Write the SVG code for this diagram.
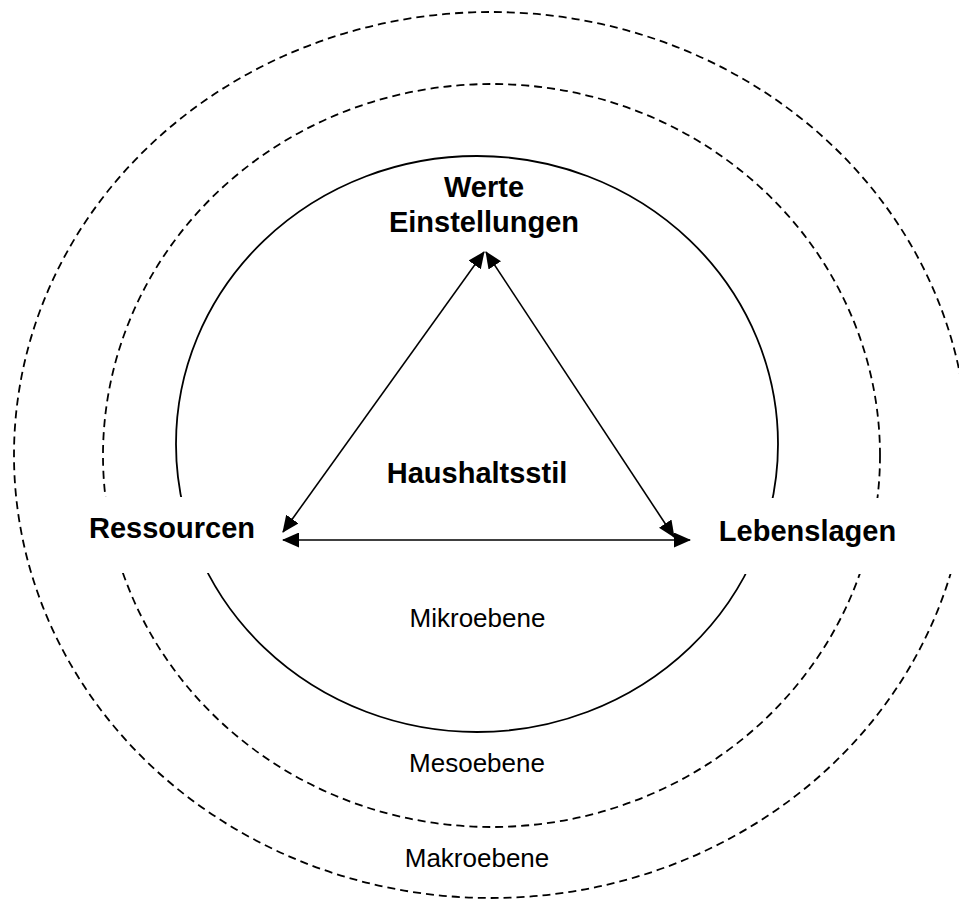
<svg xmlns="http://www.w3.org/2000/svg" width="959" height="899" viewBox="0 0 959 899">
<style>
  .dash { fill: none; stroke: #000; stroke-width: 1.8; stroke-dasharray: 8 5; }
  .solid { fill: none; stroke: #000; stroke-width: 1.8; }
  .bold { font-family: "Liberation Sans", Arial, sans-serif; font-weight: bold; font-size: 29px; text-anchor: middle; fill: #000; }
  .reg { font-family: "Liberation Sans", Arial, sans-serif; font-size: 26px; text-anchor: middle; fill: #000; }
  .bg { fill: #fff; stroke: none; }
  .conn { fill: none; stroke: #000; stroke-width: 1.6; marker-start: url(#ah); marker-end: url(#ah); }
</style>
<defs>
  <marker id="ah" markerUnits="userSpaceOnUse" markerWidth="17" markerHeight="15" viewBox="0 0 17 15" refX="16" refY="7.5" orient="auto-start-reverse">
    <path d="M0,0 L17,7.5 L0,15 z" fill="#000"/>
  </marker>
</defs>
<rect width="959" height="899" fill="#fff"/>
<g id="levels">
  <ellipse id="makro-ring" class="dash" cx="491" cy="455" rx="477" ry="443"/>
  <ellipse id="meso-ring" class="dash" cx="491.5" cy="455.5" rx="388.5" ry="371.5"/>
  <ellipse id="mikro-ring" class="solid" cx="477" cy="444" rx="301" ry="288"/>
</g>
<g id="werte">
  <text class="bold" x="484" y="197">Werte</text>
  <text class="bold" x="484" y="232">Einstellungen</text>
</g>
<g id="ressourcen">
  <rect class="bg" x="85" y="497" width="185" height="76"/>
  <text class="bold" x="172" y="538">Ressourcen</text>
</g>
<g id="lebenslagen">
  <rect class="bg" x="700" y="498" width="259" height="76"/>
  <text class="bold" x="807.5" y="541">Lebenslagen</text>
</g>
<g id="haushaltsstil">
  <text class="bold" x="477" y="483">Haushaltsstil</text>
</g>
<g id="mikroebene">
  <text class="reg" x="477.5" y="627">Mikroebene</text>
</g>
<g id="mesoebene">
  <text class="reg" x="477" y="772">Mesoebene</text>
</g>
<g id="makroebene">
  <text class="reg" x="477" y="867">Makroebene</text>
</g>
<g id="connectors">
  <line class="conn" x1="484" y1="252" x2="283" y2="532"/>
  <line class="conn" x1="486" y1="252" x2="674" y2="537"/>
  <line class="conn" x1="283" y1="540" x2="690" y2="540"/>
</g>
</svg>
